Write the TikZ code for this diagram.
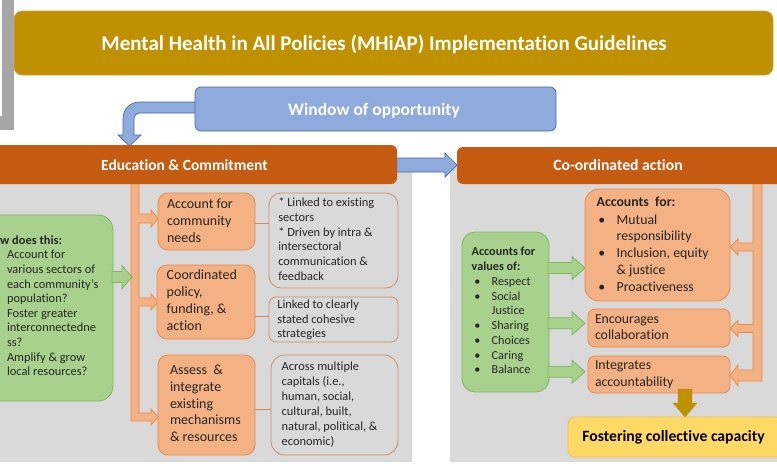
\documentclass[tikz,border=0pt]{standalone}
\usepackage{fontspec}
\setmainfont[Ligatures=NoCommon]{Carlito}
\definecolor{gold}{HTML}{BF9000}
\definecolor{hdr}{HTML}{C55A11}
\definecolor{lor}{HTML}{F4B183}
\definecolor{orb}{HTML}{E88A4E}
\definecolor{olb}{HTML}{D08E60}
\definecolor{panel}{HTML}{D9D9D9}
\definecolor{grn}{HTML}{A9D18E}
\definecolor{grb}{HTML}{7DB55A}
\definecolor{blu}{HTML}{8FAADC}
\definecolor{blb}{HTML}{4A6A9E}
\definecolor{yel}{HTML}{FFD966}
\definecolor{barg}{HTML}{A6A6A6}
\definecolor{txc}{HTML}{262626}
\newcommand\fsz[2]{\fontsize{#1}{#2}\selectfont}
\tikzset{
 boxn/.style={inner sep=0pt, outer sep=0pt, anchor=north west},
 txt/.style={inner sep=0pt, outer sep=0pt, anchor=north west, align=left, text=txc},
 lbl/.style={inner sep=0pt, outer sep=0pt, anchor=base},
 obox/.style={boxn, fill=lor, draw=orb, line width=0.8pt},
 wbox/.style={boxn, draw=olb, line width=0.8pt},
 gbox/.style={boxn, fill=grn, draw=grb, line width=0.8pt},
 oarr/.style={fill=lor, draw=orb, line width=0.8pt},
 garr/.style={fill=grn, draw=grb, line width=0.8pt},
 barr/.style={fill=blu, draw=blb, line width=0.7pt},
 conn/.style={draw=olb, line width=0.8pt},
}
\begin{document}
\begin{tikzpicture}[x=1pt,y=-1pt]
\useasboundingbox (0,0) rectangle (777,466);
\clip (0,0) rectangle (777,466);
\fill[white] (0,0) rectangle (777,466);

% title banner
\node[boxn, fill=gold, draw=gold!80!white, line width=0.6pt, rounded corners=8pt, minimum width=759pt, minimum height=64pt] (title) at (14,11) {};
\node[lbl, text=white, font=\fsz{21}{25}\bfseries] (titletext) at (384,50) {Mental Health in All Policies (MHiAP) Implementation Guidelines};
% grey bar top-left
\fill[barg] (0,0) rectangle (14,130);
\fill[white] (0,0) rectangle (2,116);

% panels
\node[boxn, fill=panel, minimum width=412pt, minimum height=297pt] (leftpanel) at (0,165) {};
\node[boxn, fill=panel, minimum width=327pt, minimum height=297pt] (rightpanel) at (450,165) {};

% curved blue arrow
\draw[barr] (200,102) -- (140,102) .. controls (130,102) and (123,109) .. (123,119) -- (123,135) -- (118,135) -- (129.5,146) -- (141,135) -- (134,135) -- (134,119) .. controls (134,115.5) and (136.5,113) .. (140,113) -- (200,113) -- cycle;
% window box
\node[boxn, fill=blu, draw=blb, line width=0.7pt, rounded corners=6pt, minimum width=361pt, minimum height=44pt] (window) at (195,87) {};
\node[lbl, text=white, font=\fsz{17.5}{21}\bfseries] (windowtext) at (374,115) {Window of opportunity};

% straight blue arrow
\draw[barr] (390,158) -- (445,158) -- (445,153) -- (457,165) -- (445,177) -- (445,172) -- (390,172) -- cycle;

% left trunk
\draw[oarr] (131,180) -- (139,180) -- (139,214) -- (151,214) -- (151,210) -- (158,218.5) -- (151,227) -- (151,223) -- (139,223) -- (139,298) -- (151,298) -- (151,294) -- (158,302) -- (151,310) -- (151,306) -- (139,306) -- (139,413) -- (151,413) -- (151,409) -- (158,417) -- (151,425) -- (151,421) -- (131,421) -- cycle;
% right trunk
\draw[oarr] (753,180) -- (762,180) -- (762,381) -- (738,381) -- (738,386) -- (730,375.5) -- (738,365) -- (738,370) -- (753,370) -- (753,332.5) -- (738,332.5) -- (738,336.5) -- (730,328.5) -- (738,320.5) -- (738,324.5) -- (753,324.5) -- (753,251) -- (738,251) -- (738,255) -- (730,247) -- (738,239) -- (738,243) -- (753,243) -- cycle;

% headers
\node[boxn, fill=hdr, rounded corners=6pt, minimum width=407pt, minimum height=39pt] (edu) at (-10,145) {};
\node[lbl, text=white, font=\fsz{15.5}{19}\bfseries] (edutext) at (184.5,170) {Education \& Commitment};
\node[boxn, fill=hdr, rounded corners=6pt, minimum width=330pt, minimum height=37pt] (coord) at (457,147) {};
\node[lbl, text=white, font=\fsz{15.7}{19}\bfseries] (coordtext) at (618,170.5) {Co-ordinated action};

% left green box
\node[gbox, rounded corners=15pt, minimum width=143pt, minimum height=186pt] (how) at (-30,215) {};
\node[inner sep=0pt, anchor=base west, text=txc, font=\fsz{12.4}{14.6}\bfseries] (howhead) at (0,244.9) {w does this:};
\node[txt, font=\fsz{12.4}{14.6}] (howbody) at (7,248.6) {\strut Account for\\various sectors of\\each community’s\\population?\\Foster greater\\interconnectedne\\ss?\\Amplify \& grow\\local resources?};
\draw[garr] (112,271.5) -- (122,271.5) -- (122,265.5) -- (132,277) -- (122,288.5) -- (122,282.5) -- (112,282.5) -- cycle;

% left orange boxes
\node[obox, rounded corners=10pt, minimum width=97pt, minimum height=57pt] (ob1) at (158,193) {};
\node[obox, rounded corners=10pt, minimum width=98pt, minimum height=74pt] (ob2) at (157,265) {};
\node[obox, rounded corners=10pt, minimum width=97pt, minimum height=100pt] (ob3) at (158,355) {};
\node[txt, font=\fsz{14}{16.8}] (ob1t) at (167,197.2) {\strut Account for\\community\\needs};
\node[txt, font=\fsz{14}{16.9}] (ob2t) at (166.7,268.1) {\strut Coordinated\\policy,\\funding, \&\\action};
\node[txt, font=\fsz{14}{16.7}] (ob3t) at (170,363.1) {\strut Assess\ \ \&\\integrate\\existing\\mechanisms\\\& resources};

% outline boxes
\node[wbox, rounded corners=12pt, minimum width=129pt, minimum height=95pt] (wb1) at (269,193) {};
\node[wbox, rounded corners=7pt, minimum width=129pt, minimum height=45pt] (wb2) at (269,297) {};
\node[wbox, rounded corners=14pt, minimum width=127pt, minimum height=100pt] (wb3) at (271,355) {};
\node[txt, font=\fsz{12.4}{14.9}] (wb1t) at (278.3,195.8) {\strut * Linked to existing\\sectors\\* Driven by intra \&\\intersectoral\\communication \&\\feedback};
\node[txt, font=\fsz{12.4}{14.5}] (wb2t) at (277.3,298.7) {\strut Linked to clearly\\stated cohesive\\strategies};
\node[txt, font=\fsz{12.4}{15.1}] (wb3t) at (281.7,359.8) {\strut Across multiple\\capitals (i.e.,\\human, social,\\cultural, built,\\natural, political, \&\\economic)};
\draw[conn] ([yshift=-1.5pt]ob1.east) -- ([yshift=-1.5pt]ob1.east -| wb1.west);
\draw[conn] ([yshift=-14pt]ob2.east) -- ([yshift=-14pt]ob2.east -| wb2.west);
\draw[conn] ([yshift=-4pt]ob3.east) -- ([yshift=-4pt]ob3.east -| wb3.west);

% right side
\node[gbox, rounded corners=13pt, minimum width=87pt, minimum height=160pt] (gv) at (462,232) {};
\node[txt, font=\fsz{12.2}{14.9}\bfseries] (gvhead) at (471.7,244.7) {\strut Accounts for\\values of:};
\node[txt, font=\fsz{12.2}{14.75}] (gvlist) at (474.3,275.1) {\strut\makebox[17.4pt][l]{\textbullet}Respect\\\makebox[17.4pt][l]{\textbullet}Social\\\hspace*{17.4pt}Justice\\\makebox[17.4pt][l]{\textbullet}Sharing\\\makebox[17.4pt][l]{\textbullet}Choices\\\makebox[17.4pt][l]{\textbullet}Caring\\\makebox[17.4pt][l]{\textbullet}Balance};
\foreach \yy in {268,323.3,371.7}
  \draw[garr] (548,\yy-5.5) -- (572,\yy-5.5) -- (572,\yy-11.5) -- (585,\yy) -- (572,\yy+11.5) -- (572,\yy+5.5) -- (548,\yy+5.5) -- cycle;

\node[obox, rounded corners=14pt, minimum width=145pt, minimum height=112pt] (ra1) at (585,189) {};
\node[obox, rounded corners=7pt, minimum width=142pt, minimum height=38pt] (ra2) at (588,309) {};
\node[obox, rounded corners=7pt, minimum width=142pt, minimum height=37pt] (ra3) at (588,356) {};
\node[txt, font=\fsz{13.8}{16.8}\bfseries] (ra1h) at (596.7,194.7) {\strut Accounts\ \ for:};
\node[txt, font=\fsz{13.8}{16.8}] (ra1l) at (598.3,212.4) {\strut\makebox[18.4pt][l]{\textbullet}Mutual\\\hspace*{18.4pt}responsibility\\\makebox[18.4pt][l]{\textbullet}Inclusion, equity\\\hspace*{18.4pt}\& justice\\\makebox[18.4pt][l]{\textbullet}Proactiveness};
\node[txt, font=\fsz{13.8}{16.7}] (ra2t) at (595,311.4) {\strut Encourages\\collaboration};
\node[txt, font=\fsz{13.8}{16.7}] (ra3t) at (595,358.1) {\strut Integrates\\accountability};

% gold arrow and final box
\node[boxn, fill=yel, draw=yel!70!gold, line width=0.8pt, rounded corners=7pt, minimum width=215pt, minimum height=40pt] (foster) at (568,417) {};
\draw[fill=gold, draw=gold] (678,389) -- (692,389) -- (692,403) -- (697,403) -- (685,417) -- (673,403) -- (678,403) -- cycle;
\node[lbl, text=black, font=\fsz{15.7}{19}\bfseries] (fostertext) at (673.5,441.5) {Fostering collective capacity};
\end{tikzpicture}
\end{document}
